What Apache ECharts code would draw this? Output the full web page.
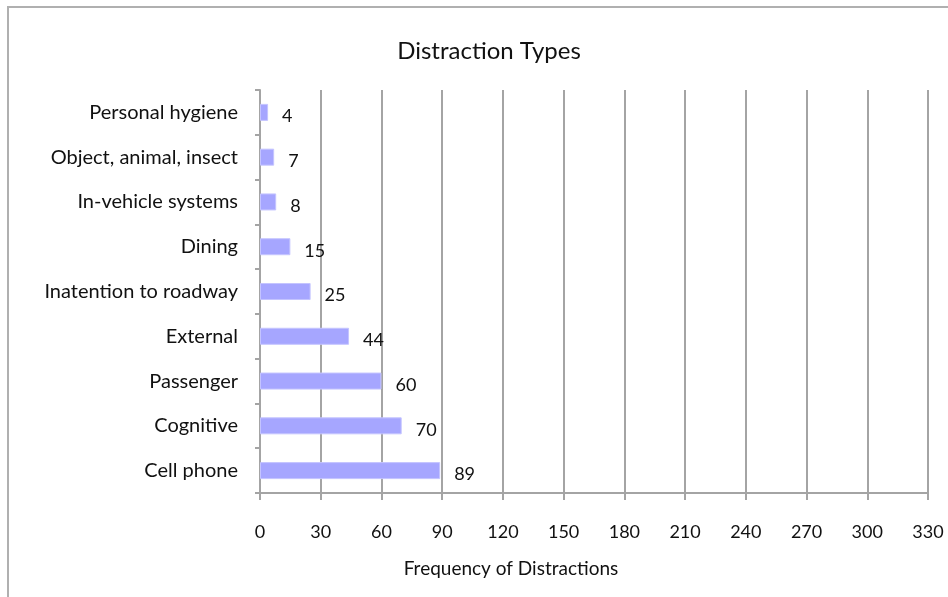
<!DOCTYPE html>
<html>
<head>
<meta charset="utf-8">
<script src="https://cdn.jsdelivr.net/npm/echarts@6/dist/echarts.min.js"></script>
<style>
  html, body { margin: 0; padding: 0; background: #fff; }
  #chart { width: 948px; height: 597px; }
</style>
</head>
<body>
<div id="chart"></div>
<script>
// Distraction categories, listed bottom to top
const categories = [
  'Cell phone', 'Cognitive', 'Passenger', 'External',
  'Inatention to roadway', 'Dining', 'In-vehicle systems',
  'Object, animal, insect', 'Personal hygiene'
];
const frequencies = [89, 70, 60, 44, 25, 15, 8, 7, 4];
const axisMin = 0;
const axisMax = 330;
const axisStep = 30;

const FONT = 'Lato, "Open Sans", sans-serif';
const chart = echarts.init(document.getElementById('chart'), null, { renderer: 'canvas' });

chart.setOption({
  backgroundColor: '#ffffff',
  animation: false,
  title: {
    text: 'Distraction Types',
    left: 484,
    top: 34,
    textAlign: 'center',
    textStyle: { fontFamily: FONT, fontSize: 24, fontWeight: 'normal', color: '#111' }
  },
  graphic: [
    {
      type: 'rect',
      shape: { x: 8, y: 7, width: 1000, height: 700 },
      style: { fill: 'none', stroke: '#b0b0b0', lineWidth: 2 },
      silent: true
    },
    {
      type: 'text',
      x: 511,
      y: 569,
      style: {
        text: 'Frequency of Distractions',
        fontFamily: FONT, fontSize: 19, fill: '#111',
        textAlign: 'center', textVerticalAlign: 'middle'
      }
    }
  ],
  grid: { left: 260, right: 20, top: 90, bottom: 104, containLabel: false },
  xAxis: {
    type: 'value',
    min: axisMin,
    max: axisMax,
    interval: axisStep,
    axisLine: { show: true, lineStyle: { color: '#a4a4a4', width: 2 } },
    axisTick: { show: true, length: 7, inside: false, lineStyle: { color: '#a4a4a4', width: 2 } },
    axisLabel: { margin: 30, fontFamily: FONT, fontSize: 18, color: '#111' },
    splitLine: { show: true, lineStyle: { color: '#a4a4a4', width: 2 } }
  },
  yAxis: {
    type: 'category',
    data: categories,
    axisLine: { show: true, lineStyle: { color: '#a4a4a4', width: 2 } },
    axisTick: { show: true, length: 5, lineStyle: { color: '#a4a4a4', width: 2 } },
    axisLabel: { margin: 22, fontFamily: FONT, fontSize: 20, color: '#111', padding: [12, 0, 0, 0] },
    splitLine: { show: false }
  },
  series: [{
    type: 'bar',
    data: frequencies,
    barWidth: 17,
    itemStyle: { color: '#a6a6ff', borderColor: '#c4c4ff', borderWidth: 1 },
    label: {
      show: true,
      position: 'right',
      distance: 14,
      offset: [0, 4],
      fontFamily: FONT,
      fontSize: 18,
      color: '#111'
    }
  }]
});
</script>
</body>
</html>
